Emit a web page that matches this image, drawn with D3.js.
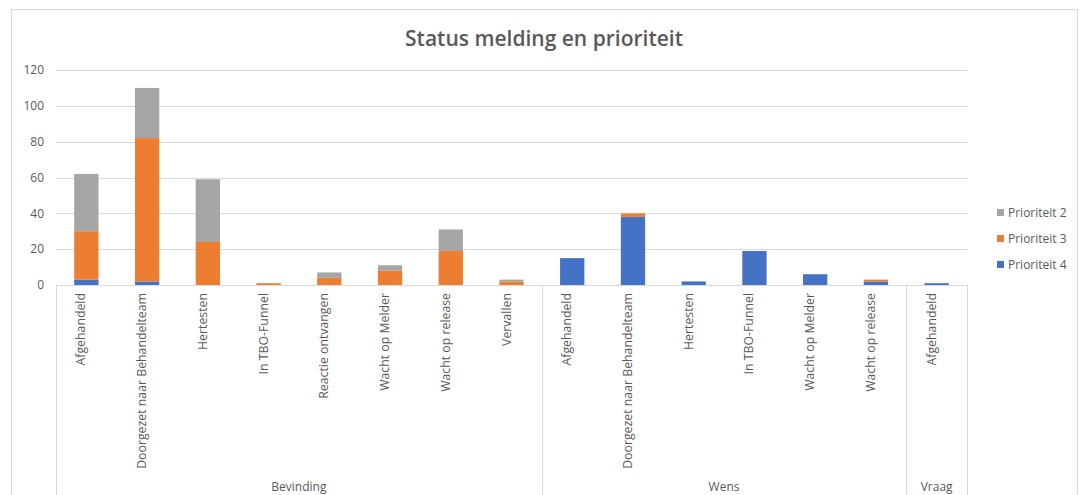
<!DOCTYPE html>
<html>
<head>
<meta charset="utf-8">
<script src="https://cdn.jsdelivr.net/npm/d3@7"></script>
<style>
  body { margin: 0; background: #fff; }
  text { font-family: "Open Sans", "Liberation Sans", sans-serif; fill: #595959; }
</style>
</head>
<body>
<script>
// chart data
var groups = ["Bevinding","Bevinding","Bevinding","Bevinding","Bevinding","Bevinding","Bevinding","Bevinding",
              "Wens","Wens","Wens","Wens","Wens","Wens","Vraag"];
var statuses = ["Afgehandeld","Doorgezet naar Behandelteam","Hertesten","In TBO-Funnel","Reactie ontvangen",
                "Wacht op Melder","Wacht op release","Vervallen",
                "Afgehandeld","Doorgezet naar Behandelteam","Hertesten","In TBO-Funnel","Wacht op Melder",
                "Wacht op release","Afgehandeld"];
var prio4 = [3, 2, 0, 0, 0, 0, 0, 0, 15, 38, 2, 19, 6, 2, 1];
var prio3 = [27, 80, 24, 1, 4, 8, 19, 2, 0, 2, 0, 0, 0, 1, 0];
var prio2 = [32, 28, 35, 0, 3, 3, 12, 1, 0, 0, 0, 0, 0, 0, 0];
var yTicks = [0, 20, 40, 60, 80, 100, 120];
var seriesNames = ["Prioriteit 4", "Prioriteit 3", "Prioriteit 2"];
var colors = {"Prioriteit 4": "#4472C4", "Prioriteit 3": "#ED7D31", "Prioriteit 2": "#A5A5A5"};

var W = 1081, H = 495;
var plot = {left: 56, right: 967, top: 70, bottom: 285};

var svg = d3.select("body").append("svg")
    .attr("width", W)
    .attr("height", H);

// outer chart frame
svg.append("rect")
    .attr("x", 11.5).attr("y", 9.5)
    .attr("width", 1066).attr("height", 500)
    .attr("fill", "none")
    .attr("stroke", "#d9d9d9");

// build rows for stacking
var keys = statuses.map(function(s, i) { return groups[i] + "|" + s + "|" + i; });
var rows = keys.map(function(k, i) {
    return {key: k, "Prioriteit 4": prio4[i], "Prioriteit 3": prio3[i], "Prioriteit 2": prio2[i]};
});

var x = d3.scaleBand().domain(keys).range([plot.left, plot.right]).paddingInner(0.6).paddingOuter(0.3);
var y = d3.scaleLinear().domain([0, 120]).range([plot.bottom, plot.top]);

// gridlines
svg.append("g")
    .selectAll("line")
    .data(yTicks.slice(1))
    .enter().append("line")
    .attr("x1", plot.left).attr("x2", plot.right)
    .attr("y1", function(d) { return Math.round(y(d)) + 0.5; })
    .attr("y2", function(d) { return Math.round(y(d)) + 0.5; })
    .attr("stroke", "#d9d9d9");

// y labels
svg.append("g")
    .selectAll("text")
    .data(yTicks)
    .enter().append("text")
    .attr("x", 44)
    .attr("y", function(d) { return y(d); })
    .attr("dy", "0.35em")
    .attr("text-anchor", "end")
    .style("font-size", "12px")
    .text(function(d) { return d; });

// stacked bars
var stack = d3.stack().keys(seriesNames)(rows);
svg.append("g")
    .selectAll("g")
    .data(stack)
    .enter().append("g")
    .attr("fill", function(d) { return colors[d.key]; })
    .selectAll("rect")
    .data(function(d) { return d; })
    .enter().append("rect")
    .attr("x", function(d) { return x(d.data.key); })
    .attr("y", function(d) { return y(d[1]); })
    .attr("width", x.bandwidth())
    .attr("height", function(d) { return y(d[0]) - y(d[1]); });

// category axis line
svg.append("line")
    .attr("x1", plot.left).attr("x2", plot.right)
    .attr("y1", plot.bottom + 0.5).attr("y2", plot.bottom + 0.5)
    .attr("stroke", "#d9d9d9");

// group boundaries
var groupNames = [];
groups.forEach(function(g) { if (groupNames.indexOf(g) < 0) groupNames.push(g); });
var step = x.step();
var bounds = groupNames.map(function(g) {
    var first = groups.indexOf(g), last = groups.lastIndexOf(g);
    var x0 = x(keys[first]) + x.bandwidth() / 2 - step / 2;
    var x1 = x(keys[last]) + x.bandwidth() / 2 + step / 2;
    return {name: g, x0: x0, x1: x1};
});
var edges = [bounds[0].x0].concat(bounds.map(function(b) { return b.x1; }));
svg.append("g")
    .selectAll("line")
    .data(edges)
    .enter().append("line")
    .attr("x1", function(d) { return Math.round(d) + 0.5; })
    .attr("x2", function(d) { return Math.round(d) + 0.5; })
    .attr("y1", plot.bottom).attr("y2", H)
    .attr("stroke", "#d9d9d9");

// category labels (rotated)
svg.append("g")
    .selectAll("text")
    .data(keys)
    .enter().append("text")
    .attr("transform", function(d) {
        return "translate(" + (x(d) + x.bandwidth() / 2 - 1) + "," + (plot.bottom + 8) + ") rotate(-90)";
    })
    .attr("text-anchor", "end")
    .style("font-size", "12.3px")
    .text(function(d, i) { return statuses[i]; });

// group labels
svg.append("g")
    .selectAll("text")
    .data(bounds)
    .enter().append("text")
    .attr("x", function(d) { return (d.x0 + d.x1) / 2; })
    .attr("y", 491)
    .attr("text-anchor", "middle")
    .style("font-size", "12px")
    .text(function(d) { return d.name; });

// title
svg.append("text")
    .attr("x", 544)
    .attr("y", 46)
    .attr("text-anchor", "middle")
    .style("font-size", "21px")
    .style("font-weight", "600")
    .text("Status melding en prioriteit");

// legend
var legendItems = ["Prioriteit 2", "Prioriteit 3", "Prioriteit 4"];
var legend = svg.append("g")
    .selectAll("g")
    .data(legendItems)
    .enter().append("g")
    .attr("transform", function(d, i) { return "translate(997," + (213 + i * 26) + ")"; });
legend.append("rect")
    .attr("x", 0).attr("y", -4)
    .attr("width", 7).attr("height", 7)
    .attr("fill", function(d) { return colors[d]; });
legend.append("text")
    .attr("x", 11)
    .attr("dy", "0.35em")
    .style("font-size", "12px")
    .text(function(d) { return d; });
</script>
</body>
</html>
